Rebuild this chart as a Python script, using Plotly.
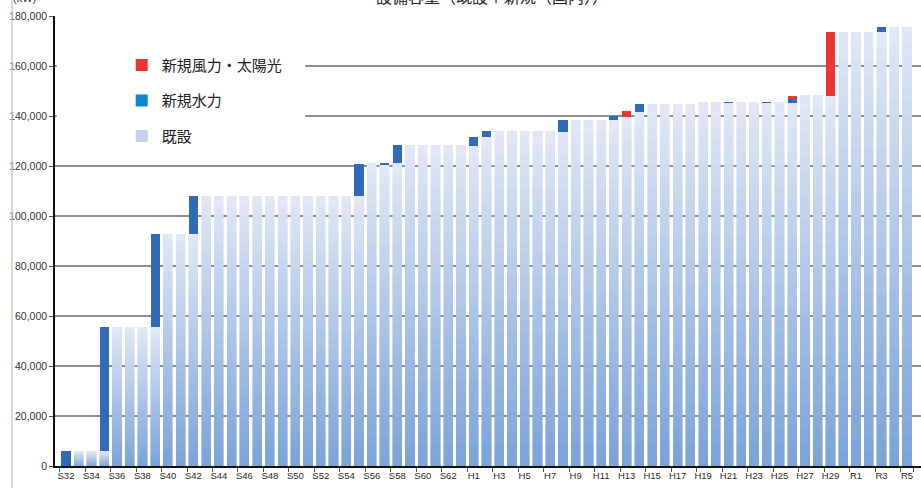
import plotly.graph_objects as go

# ---------------- data ----------------
years = ([f"S{n}" for n in range(32, 64)] +
         [f"H{n}" for n in range(1, 31)] +
         [f"R{n}" for n in range(1, 6)])
tick_labels = years[::2]

existing = [
    0, 6000, 6000, 6000, 55500, 55500, 55500, 55500, 92800, 92800, 92800,
    108000, 108000, 108000, 108000, 108000, 108000, 108000, 108000, 108000, 108000, 108000, 108000,
    108000,
    121200, 120400, 121200,
    128400, 128400, 128400, 128400, 128400,
    128200, 131600,
    134000, 134000, 134000, 134000, 134000,
    133800, 138400, 138400, 138400, 138400,
    139600, 141600,
    144800, 144800, 144800, 144800,
    145600, 145600, 145200, 145600, 145600, 145200, 145600, 145200,
    148400, 148400, 148000,
    173600, 173600, 173600, 173600, 175600, 175600,
]

new_hydro = [
    6000, 0, 0, 49500, 0, 0, 0, 37300, 0, 0, 15200,
    0, 0, 0, 0, 0, 0, 0, 0, 0, 0, 0, 0,
    12800,
    0, 800, 7200,
    0, 0, 0, 0, 0,
    3400, 2400,
    0, 0, 0, 0, 0,
    4600, 0, 0, 0, 1600,
    0, 3200,
    0, 0, 0, 0,
    0, 0, 400, 0, 0, 400, 0, 1600,
    0, 0, 0,
    0, 0, 0, 2000, 0, 0,
]

new_wind_solar = [
    0, 0, 0, 0, 0, 0, 0, 0, 0, 0, 0,
    0, 0, 0, 0, 0, 0, 0, 0, 0, 0, 0, 0,
    0,
    0, 0, 0,
    0, 0, 0, 0, 0,
    0, 0,
    0, 0, 0, 0, 0,
    0, 0, 0, 0, 0,
    2400, 0,
    0, 0, 0, 0,
    0, 0, 0, 0, 0, 0, 0, 1200,
    0, 0, 25600,
    0, 0, 0, 0, 0, 0,
]

series_names = ["新規風力・太陽光", "新規水力", "既設"]

# ---------------- style ----------------
RED = "#ef3434"
DARK_BLUE = "#316ab6"
LEGEND_HYDRO = "#0b87ca"
LEGEND_EXIST = "#c3d2ee"
TOP_C = (226, 232, 246)
BOT_C = (122, 163, 216)
N_SLICES = 30
FONT = "Liberation Sans, Arial, sans-serif"
CJK = "Noto Sans CJK JP, Liberation Sans, sans-serif"


def mix(t):
    c = [round(BOT_C[i] + (TOP_C[i] - BOT_C[i]) * t) for i in range(3)]
    return f"rgb({c[0]},{c[1]},{c[2]})"


fig = go.Figure()

# existing capacity drawn as a vertical gradient (stacked slices of each bar)
for k in range(N_SLICES):
    col = mix((k + 0.5) / N_SLICES)
    fig.add_trace(go.Bar(
        x=years, y=[v / N_SLICES for v in existing],
        marker=dict(color=col, line=dict(color=col, width=0.6)),
        showlegend=False, hoverinfo="skip",
    ))

fig.add_trace(go.Bar(x=years, y=new_hydro, name=series_names[1],
                     marker=dict(color=DARK_BLUE, line=dict(width=0)),
                     showlegend=False))
fig.add_trace(go.Bar(x=years, y=new_wind_solar, name=series_names[0],
                     marker=dict(color=RED, line=dict(width=0)),
                     showlegend=False))

# legend entries
for nm, col in zip(series_names, [RED, LEGEND_HYDRO, LEGEND_EXIST]):
    fig.add_trace(go.Scatter(x=[None], y=[None], mode="markers", name=nm,
                             legendgroup=nm,
                             marker=dict(symbol="square", size=11, color=col)))

fig.update_layout(
    width=921, height=488,
    margin=dict(l=55, r=0, t=16, b=22, autoexpand=False),
    paper_bgcolor="white", plot_bgcolor="white",
    barmode="stack", bargap=0.28,
    font=dict(family=FONT, color="#333333"),
    showlegend=True,
    legend=dict(
        x=0.077, y=0.927, xanchor="left", yanchor="top",
        bgcolor="white", borderwidth=0,
        font=dict(family=CJK, size=15, color="#222222"),
        tracegroupgap=13, itemsizing="constant", itemwidth=30,
    ),
    xaxis=dict(
        type="category", categoryorder="array", categoryarray=years,
        range=[-0.86, 67.1], automargin=False,
        tickmode="array", tickvals=tick_labels, ticktext=tick_labels,
        tickangle=0,
        tickson="boundaries", ticks="outside", ticklen=4, tickcolor="#555555",
        tickfont=dict(family=FONT, size=9.5, color="#2a2a2a"),
        showline=True, linecolor="#111111", linewidth=1.5,
        showgrid=False, zeroline=False,
    ),
    yaxis=dict(
        range=[0, 180000], tickmode="linear", tick0=0, dtick=20000,
        automargin=False,
        tickformat=",d", ticks="outside", ticklen=4, tickcolor="#555555",
        tickfont=dict(family=FONT, size=10.5, color="#333333"),
        showline=True, linecolor="#111111", linewidth=1.5,
        showgrid=True, gridcolor="#8f8f8f", gridwidth=1.5,
        zeroline=False,
    ),
    shapes=[
        # white box behind the legend hiding the gridlines
        dict(type="rect", xref="paper", yref="paper",
             x0=0.002, x1=0.289, y0=0.70, y1=0.96,
             fillcolor="white", line=dict(width=0), layer="above"),
        # frame line at the left edge of the picture
        dict(type="line", xref="paper", yref="paper",
             x0=-0.0497, x1=-0.0497, y0=-0.06, y1=1.05,
             line=dict(color="#cccccc", width=1.5)),
    ],
    annotations=[
        dict(text="設備容量（既設＋新規（国内））", xref="paper", yref="paper",
             x=0.505, y=1.044, xanchor="center", yanchor="middle",
             showarrow=False, font=dict(family=CJK, size=16, color="#222222")),
        dict(text="(kW)", xref="paper", yref="paper",
             x=-0.035, y=1.04, xanchor="center", yanchor="middle",
             showarrow=False, font=dict(family=FONT, size=11, color="#333333")),
    ],
)

fig.write_html(
    "out.html",
    config={"displayModeBar": False},
    post_script="document.body.style.margin='0';document.body.style.overflow='hidden';",
)
